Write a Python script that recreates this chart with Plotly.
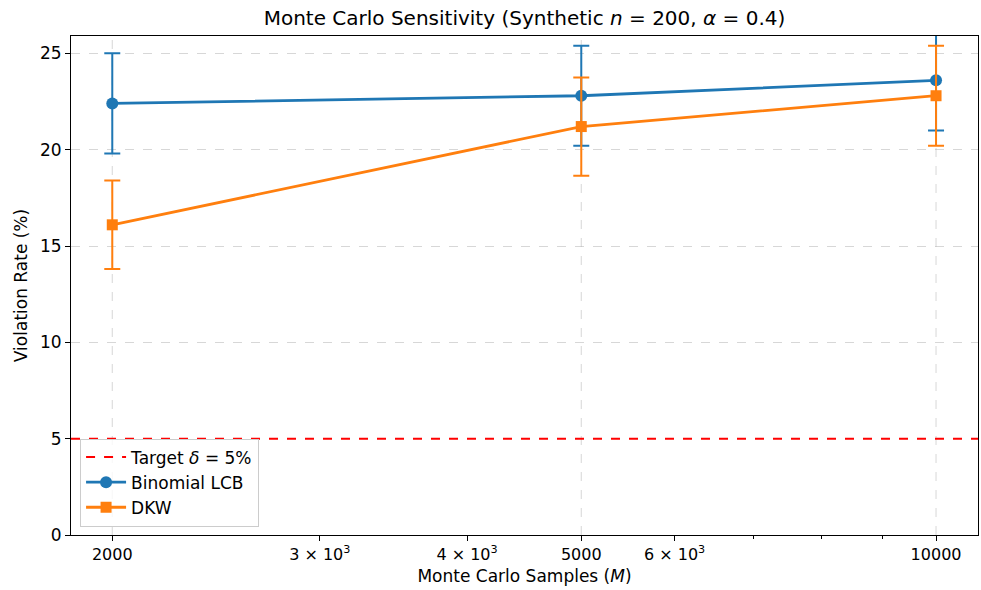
import plotly.graph_objects as go

samples = [2000, 5000, 10000]
binom_rate = [22.4, 22.8, 23.6]
binom_err = [2.6, 2.6, 2.6]
dkw_rate = [16.1, 21.2, 22.8]
dkw_err = [2.3, 2.55, 2.6]
target = 5.0

x_tickvals = [2000, 3000, 4000, 5000, 6000, 10000]
x_ticktext = ["2000", "3 × 10<sup>3</sup>", "4 × 10<sup>3</sup>", "5000", "6 × 10<sup>3</sup>", "10000"]
x_minor = [7000, 8000, 9000]
x_grid = [2000, 5000, 10000]
y_ticks = [0, 5, 10, 15, 20, 25]

blue = "#1f77b4"
orange = "#ff7f0e"
font = "DejaVu Sans"

fig = go.Figure()

fig.add_trace(go.Scatter(x=[None], y=[None], mode="lines", name="Target <i>δ</i> = 5%",
                         line=dict(color="red", width=2, dash="dash")))
fig.add_trace(go.Scatter(x=samples, y=binom_rate, mode="lines+markers", name="Binomial LCB",
                         line=dict(color=blue, width=2.8),
                         marker=dict(symbol="circle", size=12, color=blue),
                         error_y=dict(type="data", array=binom_err, visible=True, color=blue,
                                      thickness=2, width=8)))
fig.add_trace(go.Scatter(x=samples, y=dkw_rate, mode="lines+markers", name="DKW",
                         line=dict(color=orange, width=2.8),
                         marker=dict(symbol="square", size=11, color=orange),
                         error_y=dict(type="data", array=dkw_err, visible=True, color=orange,
                                      thickness=2, width=8)))

for gx in x_grid:
    fig.add_vline(x=gx, line=dict(color="rgba(176,176,176,0.5)", width=1, dash="dash"), layer="below")
fig.add_hline(y=target, line=dict(color="red", width=2, dash="dash"))

fig.update_layout(
    width=981, height=590,
    margin=dict(l=71, r=3, t=36, b=55),
    paper_bgcolor="white", plot_bgcolor="white",
    font=dict(family=font, size=16, color="black"),
    title=dict(text="Monte Carlo Sensitivity (Synthetic <i>n</i> = 200, <i>α</i> = 0.4)",
               x=0.5, xref="paper", xanchor="center", y=0.97, yanchor="middle",
               font=dict(size=20, family=font)),
    showlegend=True,
    legend=dict(x=0.01, y=0.017, xanchor="left", yanchor="bottom",
                bgcolor="rgba(255,255,255,0.8)", bordercolor="#cccccc", borderwidth=1,
                font=dict(size=17, family=font), tracegroupgap=2, itemwidth=40),
)

fig.update_xaxes(type="log", range=[3.266, 4.0356],
                 tickmode="array", tickvals=x_tickvals, ticktext=x_ticktext,
                 ticks="outside", ticklen=5, tickcolor="black",
                 minor=dict(tickvals=x_minor, ticks="outside", ticklen=3, tickcolor="black", showgrid=False),
                 showgrid=False, showline=True, linecolor="black", linewidth=1, mirror=True,
                 zeroline=False,
                 title=dict(text="Monte Carlo Samples (<i>M</i>)", font=dict(size=17), standoff=6),
                 tickfont=dict(size=16))
fig.update_yaxes(range=[0, 25.9], tickmode="array", tickvals=y_ticks,
                 ticks="outside", ticklen=5, tickcolor="black",
                 showgrid=True, gridcolor="rgba(176,176,176,0.5)", griddash="dash", gridwidth=1,
                 showline=True, linecolor="black", linewidth=1, mirror=True, zeroline=False,
                 title=dict(text="Violation Rate (%)", font=dict(size=17), standoff=8),
                 tickfont=dict(size=17))

fig.write_html("out.html")
